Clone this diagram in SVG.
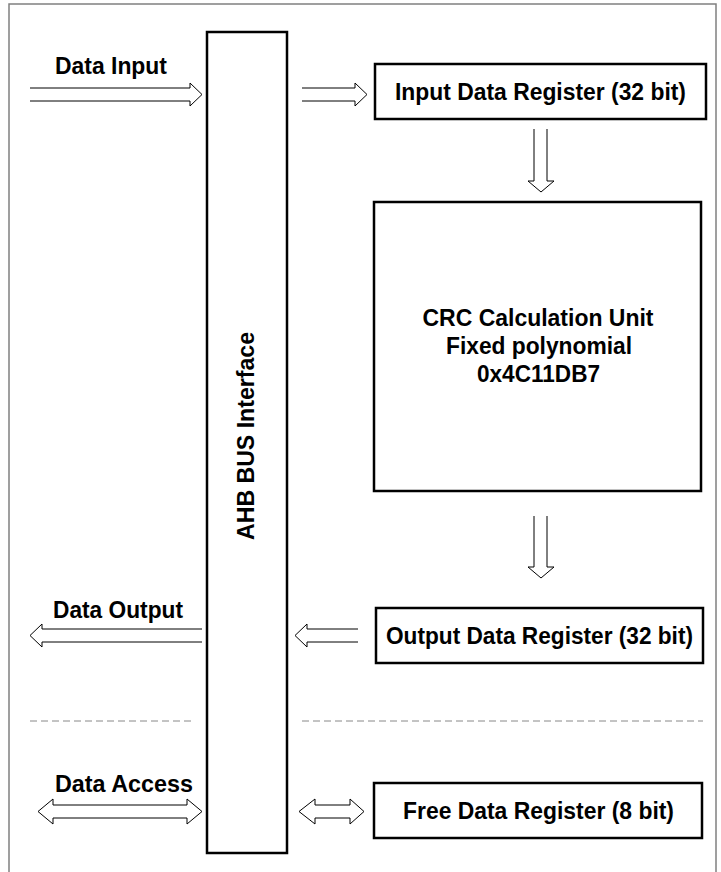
<svg xmlns="http://www.w3.org/2000/svg" width="721" height="872" viewBox="0 0 721 872">
<style>
.box{fill:#fff;stroke:#000;stroke-width:2.5}
.arr{fill:#fff;stroke:#000;stroke-width:1}
.t{font-family:"Liberation Sans",Arial,sans-serif;font-weight:bold;font-size:23px;fill:#000}
.dash{stroke:#888;stroke-width:1;stroke-dasharray:7 4;fill:none}
</style>
<rect width="721" height="872" fill="#fff"/>
<path d="M9,872 V4 H716 V872" fill="none" stroke="#808080" stroke-width="1.5"/>
<g id="bus">
<rect class="box" x="207" y="32" width="80" height="821"/>
<text class="t" transform="translate(254,436) rotate(-90)" text-anchor="middle" textLength="208" lengthAdjust="spacingAndGlyphs">AHB BUS Interface</text>
</g>
<g id="input-reg">
<rect class="box" x="375" y="64" width="331" height="55"/>
<text class="t" x="395" y="99.5" textLength="291" lengthAdjust="spacingAndGlyphs">Input Data Register (32 bit)</text>
</g>
<g id="crc">
<rect class="box" x="374" y="202" width="327" height="289"/>
<text class="t" x="538" y="326" text-anchor="middle" textLength="231" lengthAdjust="spacingAndGlyphs">CRC Calculation Unit</text>
<text class="t" x="539" y="354" text-anchor="middle" textLength="186" lengthAdjust="spacingAndGlyphs">Fixed polynomial</text>
<text class="t" x="538.5" y="381.5" text-anchor="middle" textLength="123" lengthAdjust="spacingAndGlyphs">0x4C11DB7</text>
</g>
<g id="output-reg">
<rect class="box" x="376" y="608" width="327" height="55"/>
<text class="t" x="386" y="644" textLength="307" lengthAdjust="spacingAndGlyphs">Output Data Register (32 bit)</text>
</g>
<g id="free-reg">
<rect class="box" x="374" y="783" width="328" height="55"/>
<text class="t" x="403" y="819" textLength="271" lengthAdjust="spacingAndGlyphs">Free Data Register (8 bit)</text>
</g>
<g id="labels">
<text class="t" x="55" y="74" textLength="112" lengthAdjust="spacingAndGlyphs">Data Input</text>
<text class="t" x="53" y="618" textLength="130" lengthAdjust="spacingAndGlyphs">Data Output</text>
<text class="t" x="55" y="792" textLength="138" lengthAdjust="spacingAndGlyphs">Data Access</text>
</g>
<g id="separators">
<line class="dash" x1="30" y1="721" x2="193" y2="721"/>
<line class="dash" x1="302" y1="721" x2="703" y2="721"/>
</g>
<g id="connectors">
<path class="arr" d="M30,88 H190 V83 L202,94.5 L190,106 V101 H30"/>
<path class="arr" d="M302,88 H355 V83 L367,94.5 L355,106 V101 H302"/>
<path class="arr" d="M534,129 V181 H528 L541,192 L554,181 H547 V129"/>
<path class="arr" d="M534,516 V567 H528 L541,578 L554,567 H547 V516"/>
<path class="arr" d="M202,629 H42 V624 L30,635.5 L42,647 V642 H202"/>
<path class="arr" d="M358,629 H307 V624 L295,635.5 L307,647 V642 H358"/>
<path class="arr" d="M53,805 H187 V799 L202,811.5 L187,824 V818 H53 V824 L38,811.5 L53,799 Z"/>
<path class="arr" d="M315,805 H350 V799 L364,811.5 L350,824 V818 H315 V824 L299,811.5 L315,799 Z"/>
</g>
</svg>
